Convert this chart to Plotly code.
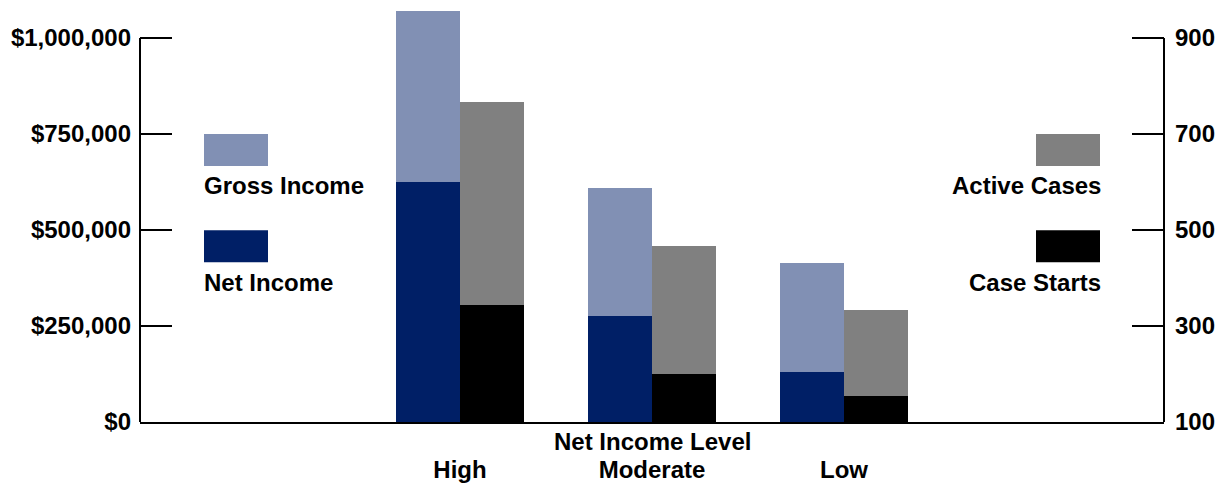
import plotly.graph_objects as go

categories = ["High", "Moderate", "Low"]
gross_income = [1070000, 610000, 415000]
net_income = [625000, 276000, 131000]
active_cases = [767, 466, 333]
case_starts = [344, 199, 154]
left_ticks = [0, 250000, 500000, 750000, 1000000]
left_tick_labels = ["$0", "$250,000", "$500,000", "$750,000", "$1,000,000"]
right_ticks = [100, 300, 500, 700, 900]

W, H = 1224, 483
L, R = 140, 1164
T, B = 5, 421.7          # plot area (top left room for the tall bar)
AX_TOP = 38              # pixel where the top tick sits

def px(x):
    return (x - L) / (R - L)

def py(y):
    return (B - y) / (B - T)

scale = (B - T) / (B - AX_TOP)
y1_max = left_ticks[-1] * scale
y2_max = right_ticks[0] + (right_ticks[-1] - right_ticks[0]) * scale

FONT = dict(family="Liberation Sans, Arial, sans-serif", size=24, color="#000000", weight="bold")
C_GROSS = "#8190B4"
C_NET = "#001F66"
C_ACTIVE = "#808080"
C_START = "#000000"

xs = list(range(len(categories)))
bw = 1 / 3

fig = go.Figure()
fig.add_trace(go.Bar(x=xs, y=gross_income, offset=-bw, width=bw, marker=dict(color=C_GROSS, line=dict(width=0)),
                     name="Gross Income"))
fig.add_trace(go.Bar(x=xs, y=net_income, offset=-bw, width=bw, marker=dict(color=C_NET, line=dict(width=0)),
                     name="Net Income"))
fig.add_trace(go.Bar(x=xs, y=active_cases, offset=0, width=bw, marker=dict(color=C_ACTIVE, line=dict(width=0)),
                     name="Active Cases", yaxis="y2"))
fig.add_trace(go.Bar(x=xs, y=case_starts, offset=0, width=bw, marker=dict(color=C_START, line=dict(width=0)),
                     name="Case Starts", yaxis="y2"))

shapes = []
annotations = []
# vertical axis lines only up to the top tick
for xp in (0, 1):
    shapes.append(dict(type="line", xref="paper", yref="y", x0=xp, x1=xp, y0=0, y1=left_ticks[-1],
                       line=dict(color="black", width=2), layer="above"))

legend_items = [
    ("Gross Income", C_GROSS, 204, 268, 134, 166, "left", 202, 185.5),
    ("Net Income", C_NET, 204, 268, 230, 262, "left", 202, 282),
    ("Active Cases", C_ACTIVE, 1036, 1100, 134, 166, "right", 1103, 185.5),
    ("Case Starts", C_START, 1036, 1100, 230, 262, "right", 1103, 282),
]
for name, col, x0, x1, y0, y1, anc, tx, ty in legend_items:
    shapes.append(dict(type="rect", xref="paper", yref="paper", x0=px(x0), x1=px(x1), y0=py(y1), y1=py(y0),
                       fillcolor=col, line=dict(width=0), layer="above"))
    annotations.append(dict(text=name, xref="paper", yref="paper", x=px(tx), y=py(ty), xanchor=anc,
                            yanchor="middle", showarrow=False, font=FONT))

annotations.append(dict(text="Net Income Level", xref="x", yref="paper", x=1, y=py(441.5),
                        xanchor="center", yanchor="middle", showarrow=False, font=FONT))

fig.update_layout(
    width=W, height=H,
    margin=dict(l=L, r=W - R, t=T, b=H - B, autoexpand=False),
    plot_bgcolor="white", paper_bgcolor="white",
    barmode="overlay", bargap=0,
    showlegend=False,
    font=FONT,
    shapes=shapes, annotations=annotations,
    xaxis=dict(range=[-5 / 3, 11 / 3], tickvals=xs, ticktext=categories, showline=True, linecolor="black",
               linewidth=2, ticks="", showgrid=False, zeroline=False, tickfont=FONT, ticklabelstandoff=25,
               automargin=False),
    yaxis=dict(range=[0, y1_max], tickvals=left_ticks, ticktext=left_tick_labels, showline=False,
               ticks="inside", ticklen=32, tickwidth=2, tickcolor="black", ticklabelstandoff=8,
               showgrid=False, zeroline=False, tickfont=FONT, automargin=False),
    yaxis2=dict(range=[right_ticks[0], y2_max], tickvals=right_ticks, overlaying="y", side="right",
                showline=False, ticks="inside", ticklen=32, tickwidth=2, tickcolor="black", ticklabelstandoff=10,
                showgrid=False, zeroline=False, tickfont=FONT, automargin=False),
)

fig.write_html("out.html")
